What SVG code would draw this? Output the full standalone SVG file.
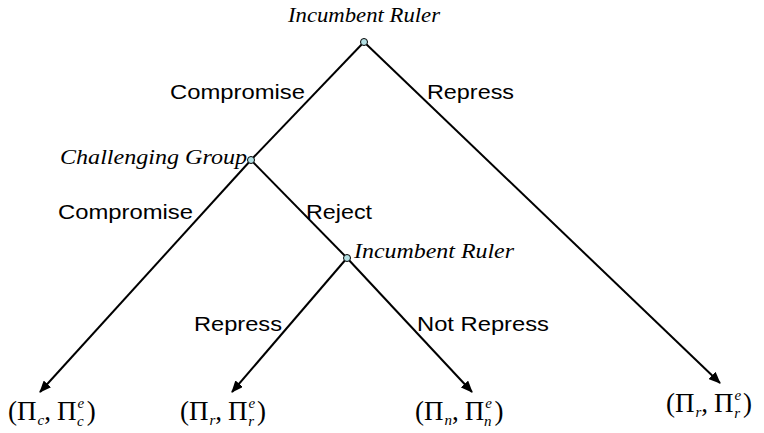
<svg xmlns="http://www.w3.org/2000/svg" width="764" height="433" viewBox="0 0 764 433">
<style>
.nl{font-family:"Liberation Serif",serif;font-style:italic;font-size:21px;fill:#000}
.el{font-family:"Liberation Sans",Arial,sans-serif;font-size:21px;fill:#000}
.pay{font-family:"Liberation Serif",serif;font-size:27px;fill:#000}
.sub{font-style:italic;font-size:15px}
.e{stroke:#000;stroke-width:2;fill:none}
.nd{fill:#b4e0e4;stroke:#000;stroke-width:1}
</style>
<defs>
<marker id="ah2" viewBox="0 0 12 10" refX="11" refY="5" markerWidth="12" markerHeight="10" orient="auto" markerUnits="userSpaceOnUse">
<path d="M0,0 L12,5 L0,10 z" fill="#000"/>
</marker>
</defs>
<g id="connectors">
<line class="e" x1="364" y1="42" x2="720" y2="383" marker-end="url(#ah2)"/>
<line class="e" x1="364" y1="42" x2="251" y2="160"/>
<line class="e" x1="251" y1="160" x2="40" y2="392" marker-end="url(#ah2)"/>
<line class="e" x1="251" y1="160" x2="347" y2="258"/>
<line class="e" x1="347" y1="258" x2="232" y2="392" marker-end="url(#ah2)"/>
<line class="e" x1="347" y1="258" x2="472" y2="392" marker-end="url(#ah2)"/>
<text class="el" x="170" y="99" textLength="135" lengthAdjust="spacingAndGlyphs">Compromise</text>
<text class="el" x="427" y="99" textLength="87" lengthAdjust="spacingAndGlyphs">Repress</text>
<text class="el" x="58" y="219" textLength="135" lengthAdjust="spacingAndGlyphs">Compromise</text>
<text class="el" x="306" y="219" textLength="66" lengthAdjust="spacingAndGlyphs">Reject</text>
<text class="el" x="194" y="331" textLength="88" lengthAdjust="spacingAndGlyphs">Repress</text>
<text class="el" x="417" y="331" textLength="132" lengthAdjust="spacingAndGlyphs">Not Repress</text>
</g>
<g id="n0">
<circle class="nd" cx="364" cy="42" r="3.5"/>
<text class="nl" x="288" y="22" textLength="152" lengthAdjust="spacingAndGlyphs">Incumbent Ruler</text>
</g>
<g id="n1">
<circle class="nd" cx="251" cy="160" r="3.5"/>
<text class="nl" x="60" y="164" textLength="187" lengthAdjust="spacingAndGlyphs">Challenging Group</text>
</g>
<g id="n2">
<circle class="nd" cx="347" cy="258" r="3.5"/>
<text class="nl" x="354" y="258" textLength="160" lengthAdjust="spacingAndGlyphs">Incumbent Ruler</text>
</g>
<g id="p1"><text class="pay" x="8" y="420">(Π<tspan class="sub" dx="1" dy="5">c</tspan><tspan dy="-5">,</tspan><tspan dx="6">Π</tspan><tspan class="sub" dx="1" dy="-12">e</tspan><tspan class="sub" dx="-7" dy="18">c</tspan><tspan dx="3" dy="-6">)</tspan></text></g>
<g id="p2"><text class="pay" x="180" y="420">(Π<tspan class="sub" dx="1" dy="5">r</tspan><tspan dy="-5">,</tspan><tspan dx="6">Π</tspan><tspan class="sub" dx="1" dy="-12">e</tspan><tspan class="sub" dx="-7" dy="18">r</tspan><tspan dx="3" dy="-6">)</tspan></text></g>
<g id="p3"><text class="pay" x="415" y="420">(Π<tspan class="sub" dx="1" dy="5">n</tspan><tspan dy="-5">,</tspan><tspan dx="6">Π</tspan><tspan class="sub" dx="1" dy="-12">e</tspan><tspan class="sub" dx="-8" dy="18">n</tspan><tspan dx="3" dy="-6">)</tspan></text></g>
<g id="p4"><text class="pay" x="666" y="412">(Π<tspan class="sub" dx="1" dy="5">r</tspan><tspan dy="-5">,</tspan><tspan dx="6">Π</tspan><tspan class="sub" dx="1" dy="-12">e</tspan><tspan class="sub" dx="-7" dy="18">r</tspan><tspan dx="3" dy="-6">)</tspan></text></g>
</svg>
